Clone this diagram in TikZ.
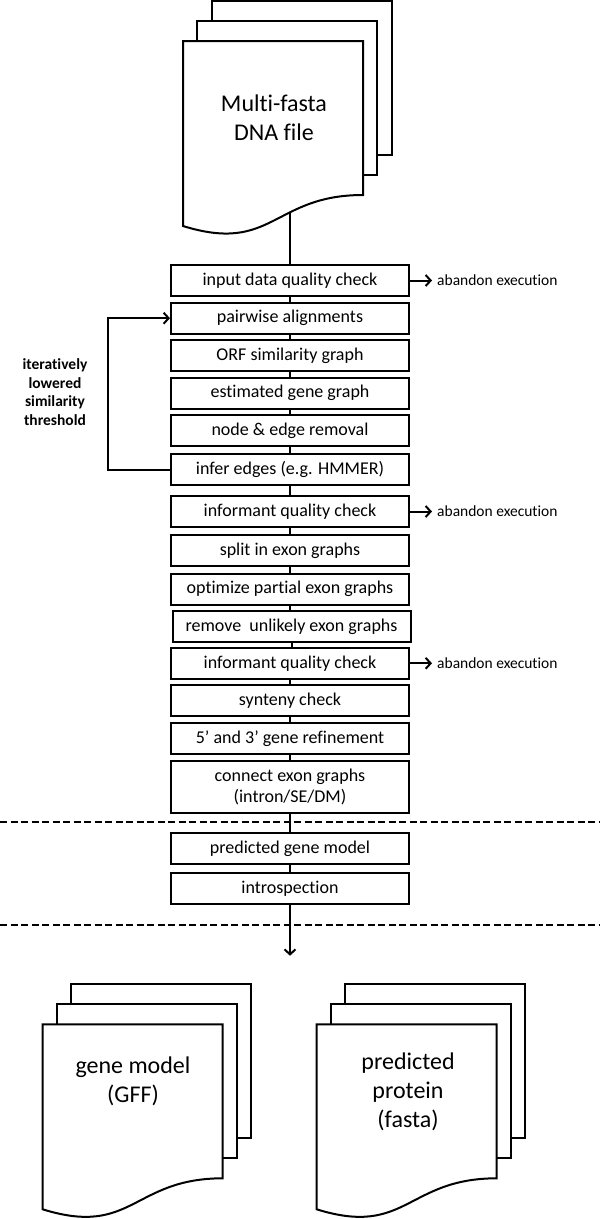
\documentclass[tikz,border=0pt]{standalone}
\usepackage{fontspec}
\setmainfont{Carlito}[RawFeature={-liga;-clig;-dlig}]
\usetikzlibrary{arrows.meta}
\tikzset{
  stepbox/.style={draw, line width=2pt, fill=white, minimum width=238pt, minimum height=31pt,
    inner sep=0pt, font=\fontsize{18}{21.5}\selectfont, align=center},
  conn/.style={line width=2pt},
  arr/.style={line width=2pt, -{Straight Barb[length=5pt,width=11pt]}},
  abandon/.style={anchor=west, inner xsep=5pt, inner ysep=0pt, font=\fontsize{15.5}{18}\selectfont},
  sheet/.style={draw, fill=white, line width=2pt, line join=miter},
  doctext/.style={font=\fontsize{24}{29}\selectfont, align=center, inner sep=0pt},
  sepline/.style={line width=2pt, dash pattern=on 7pt off 3.5pt}
}
\newcommand{\docstack}[2]{%
  \path[sheet] (#1+28.5,#2-40) rectangle (#1+208.5,#2+114);
  \path[sheet] (#1+14,#2-20) rectangle (#1+194,#2+134);
  \path[sheet] (#1,#2) -- (#1+180,#2) -- (#1+180,#2+154)
     .. controls (#1+90,#2+154) and (#1+90,#2+213) .. (#1,#2+185) -- cycle;
}
\begin{document}
\begin{tikzpicture}[x=1pt,y=-1pt]
\useasboundingbox (0,0) rectangle (600,1219);

% documents
\docstack{183}{41}
\node[doctext] (dna) at (274,118) {Multi-fasta\\DNA file};
\docstack{42.7}{1024.3}
\node[doctext] (gff) at (133,1081) {gene model\\(GFF)};
\docstack{316.7}{1024.3}
\node[doctext] (prot) at (408,1092) {predicted\\protein\\(fasta)};

% separators
\draw[sepline] (0,821.7) -- (600,821.7);
\draw[sepline] (0,925) -- (600,925);

% steps
\node[stepbox] (b1)  at (290,280.5) {input data quality check};
\node[stepbox] (b2)  at (290,318.2) {pairwise alignments};
\node[stepbox] (b3)  at (290,355.5) {ORF similarity graph};
\node[stepbox] (b4)  at (290,393.2) {estimated gene graph};
\node[stepbox] (b5)  at (290,430.5) {node \& edge removal};
\node[stepbox] (b6)  at (290,469.9) {infer edges (e.g. HMMER)};
\node[stepbox] (b7)  at (290,511.5) {informant quality check};
\node[stepbox] (b8)  at (290,550.5) {split in exon graphs};
\node[stepbox] (b9)  at (290,589.2) {optimize partial exon graphs};
\node[stepbox] (b10) at (291.5,626.7) {remove~ unlikely exon graphs};
\node[stepbox] (b11) at (290,663.3) {informant quality check};
\node[stepbox] (b12) at (290,700.5) {synteny check};
\node[stepbox] (b13) at (290,738.3) {5’ and 3’ gene refinement};
\node[stepbox, minimum height=52pt] (b14) at (290,787) {connect exon graphs\\(intron/SE/DM)};
\node[stepbox] (b15) at (290,848.8) {predicted gene model};
\node[stepbox] (b16) at (290,888.9) {introspection};

% abandon labels
\node[abandon] (ab1) at (432,280.5) {abandon execution};
\node[abandon] (ab2) at (432,511.5) {abandon execution};
\node[abandon] (ab3) at (432,663.3) {abandon execution};

% loop label
\node[font=\bfseries\fontsize{15.5}{18.6}\selectfont, align=center, inner sep=0pt] (iter) at (55,392)
  {iteratively\\lowered\\similarity\\threshold};

% connectors
\coordinate (inp) at (290,212);
\draw[conn] (inp) -- (b1.north);
\foreach \a/\b in {b1/b2,b2/b3,b3/b4,b4/b5,b5/b6,b6/b7,b7/b8,b8/b9,b9/b10,b10/b11,b11/b12,b12/b13,b13/b14,b14/b15,b15/b16}
  \draw[conn] (\a.south) -- (\a.south |- \b.north);
\draw[arr] (b1.east) -- (ab1.west);
\draw[arr] (b7.east) -- (ab2.west);
\draw[arr] (b11.east) -- (ab3.west);
\draw[arr] (b6.west) -- ++(-61.7,0) |- (b2.west);
\coordinate (out) at (290,955.7);
\draw[arr] (b16.south) -- (out);
\end{tikzpicture}
\end{document}
